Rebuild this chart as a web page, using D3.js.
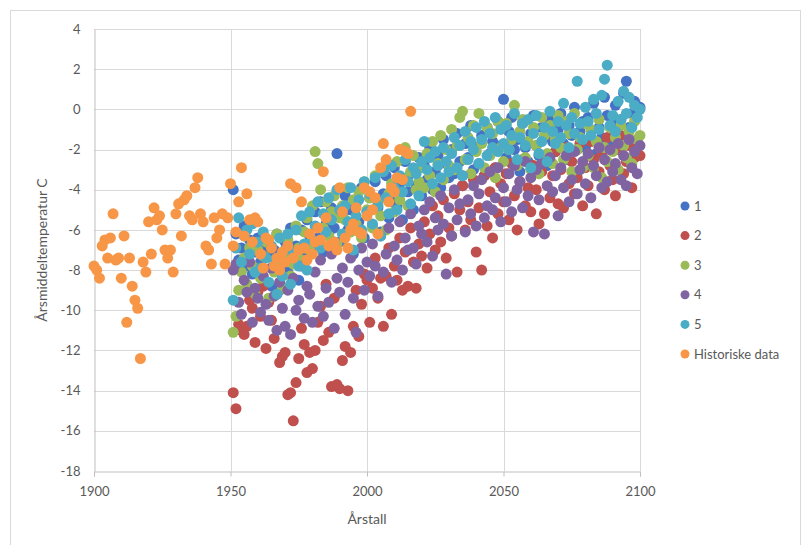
<!DOCTYPE html>
<html>
<head>
<meta charset="utf-8">
<script src="https://cdn.jsdelivr.net/npm/d3@7"></script>
<style>
  html, body { margin: 0; padding: 0; background: #fff; }
  svg { display: block; font-family: Lato, "Open Sans", sans-serif; }
</style>
</head>
<body>
<svg id="chart" width="802" height="545"></svg>
<script>
// Historical annual mean temperatures, 1900–2016
const histStart = 1900;
const histValues = [
  -7.8, -8.0, -8.4, -6.8, -6.5, -7.4, -6.4, -5.2, -7.5, -7.4,
  -8.4, -6.3, -10.6, -7.4, -8.8, -9.5, -9.9, -12.4, -7.6, -8.1,
  -5.6, -7.2, -4.9, -5.5, -5.3, -6.0, -7.0, -7.4, -7.0, -8.1,
  -5.2, -4.7, -6.3, -4.5, -4.3, -5.3, -5.5, -3.9, -3.4, -5.2,
  -5.6, -6.8, -7.0, -7.7, -5.4, -6.4, -6.0, -5.2, -7.7, -5.4,
  -3.7, -6.8, -6.1, -4.6, -2.9, -6.3, -4.2, -5.5, -6.6, -5.4,
  -5.6, -7.2, -7.9, -6.4, -6.5, -6.9, -7.8, -7.4, -8.0, -7.1,
  -7.6, -6.8, -3.7, -7.4, -3.9, -7.0, -4.6, -6.9, -7.5, -6.2,
  -7.2, -6.6, -5.9, -6.5, -3.1, -5.4, -6.8, -6.7, -6.6, -7.0,
  -3.9, -5.1, -6.4, -6.9, -6.0, -5.7, -4.9, -6.1, -6.2, -3.9,
  -5.3, -4.1, -5.0, -4.4, -6.2, -2.9, -1.7, -2.5, -4.6, -3.9,
  -4.1, -3.4, -2.0, -3.5, -2.1, -2.2, -0.1
];

// Scenario runs 1–5, 1951–2100
const scenStart = 1951;
const series1 = [
  -4.0, -6.2, -7.5, -6.9, -5.8, -7.8, -6.5, -8.2, -7.1, -6.4,
  -7.6, -8.4, -6.9, -7.3, -8.8, -7.0, -6.2, -9.0, -7.7, -6.6,
  -8.1, -5.9, -7.2, -6.8, -8.5, -6.0, -7.4, -5.5, -6.3, -7.0,
  -5.1, -6.4, -4.6, -7.1, -5.7, -6.2, -4.9, -5.9, -2.2, -6.6,
  -5.3, -4.3, -6.0, -5.0, -7.2, -4.7, -5.6, -3.9, -6.4, -5.1,
  -4.4, -5.8, -3.6, -4.9, -6.1, -4.2, -3.3, -5.4, -4.6, -2.9,
  -4.8, -3.7, -5.5, -2.6, -4.1, -3.2, -5.0, -3.8, -2.4, -4.3,
  -2.8, -3.5, -1.9, -4.0, -3.1, -2.3, -3.9, -1.5, -2.7, -3.4,
  -2.0, -3.2, -1.2, -2.6, -3.8, -1.7, -2.4, -0.8, -3.0, -1.9,
  -2.7, -1.3, -3.3, -0.9, -2.2, -1.6, -2.9, -0.6, -1.8, 0.5,
  -2.4, -1.1, -0.4, -2.0, -1.5, -3.1, -0.7, -1.9, -2.6, -1.2,
  -0.3, -1.8, -2.3, -0.9, -1.4, -2.8, -0.5, -1.6, -2.1, -1.0,
  -0.2, -1.7, -2.5, -0.8, -1.3, 0.1, -2.0, -1.1, -0.6, -1.9,
  -0.4, -1.5, 0.3, -2.2, -0.9, -1.4, 0.6, -0.3, -1.8, -0.7,
  0.2, -1.2, -0.5, 0.8, 1.4, -0.9, -0.2, 0.4, -1.6, 0.1
];
const series2 = [
  -14.1, -14.9, -10.7, -11.0, -11.2, -10.8, -9.5, -9.9, -11.6, -9.1,
  -10.3, -8.8, -11.9, -9.6, -10.5, -11.4, -9.2, -12.6, -12.3, -12.1,
  -14.2, -14.1, -15.5, -13.6, -12.4, -10.9, -11.7, -13.1, -12.1, -12.9,
  -12.0, -10.6, -9.8, -11.5, -8.7, -11.1, -13.8, -9.4, -13.7, -13.9,
  -12.5, -11.8, -14.0, -12.1, -10.8, -9.0, -11.3, -9.7, -8.2, -8.5,
  -10.6, -8.9, -7.4, -9.4, -8.4, -10.8, -8.3, -6.9, -10.2, -7.8,
  -8.5, -6.4, -9.0, -7.1, -8.8, -5.9, -7.6, -8.9, -6.7, -7.3,
  -5.6, -7.9, -6.2, -4.8, -7.0, -5.3, -6.6, -4.5, -7.4, -5.9,
  -6.3, -4.2, -8.1, -5.0, -3.8, -6.0, -4.6, -5.5, -3.5, -7.1,
  -4.9, -8.0, -3.3, -5.8, -4.1, -6.4, -2.9, -5.2, -3.7, -4.6,
  -3.2, -5.5, -2.7, -4.3, -6.0, -3.6, -2.5, -4.8, -3.9, -5.1,
  -2.8, -4.0, -5.7, -3.1, -5.2, -2.4, -4.4, -3.3, -2.1, -4.7,
  -3.0, -4.9, -1.9, -3.7, -2.6, -4.2, -3.4, -1.7, -4.8, -2.9,
  -3.8, -1.6, -2.5, -5.2, -3.1, -2.2, -4.0, -1.4, -2.8, -3.5,
  -4.3, -2.0, -1.3, -3.2, -2.6, -1.8, -3.9, -2.4, -1.5, -2.3
];
const series3 = [
  -11.1, -10.3, -9.0, -8.1, -7.4, -8.7, -6.9, -7.8, -9.2, -7.0,
  -8.4, -7.3, -6.6, -9.4, -7.9, -8.1, -6.2, -7.6, -8.9, -7.2,
  -6.5, -8.3, -7.7, -5.8, -6.9, -7.5, -6.1, -5.4, -7.0, -4.8,
  -2.1, -2.7, -4.0, -5.9, -4.6, -6.3, -5.1, -4.3, -6.7, -5.4,
  -4.8, -5.5, -3.9, -6.1, -4.5, -5.7, -4.1, -6.4, -3.6, -5.0,
  -4.4, -5.9, -3.3, -4.7, -5.3, -3.0, -6.0, -4.2, -3.7, -5.1,
  -2.6, -4.5, -3.4, -1.9, -4.8, -3.1, -2.3, -4.0, -3.6, -2.9,
  -3.9, -2.2, -3.3, -1.6, -4.1, -2.7, -1.3, -3.5, -2.0, -2.8,
  -1.0, -3.0, -1.8, -0.4, -0.1, -2.5, -1.4, -3.2, -0.8, -2.1,
  -0.2, -1.7, -2.9, -0.9, -2.3, -1.2, -3.4, -0.6, -1.9, -2.6,
  -0.7, -2.0, -1.5, 0.2, -2.8, -1.1, -0.5, -2.4, -1.6, -3.0,
  -0.9, -1.8, -3.2, -0.4, -1.3, -2.2, -0.8, -2.7, -1.5, -0.3,
  -1.9, -2.5, -0.6, -1.2, -3.1, -0.2, -2.0, -1.4, -2.9, -0.7,
  -2.3, -1.0, -2.9, -1.6, -0.5, -3.4, -1.9, -2.6, -0.9, -2.1,
  -1.4, -3.0, -0.8, -1.8, -2.4, -1.1, -2.7, -0.6, -1.5, -1.3
];
const series4 = [
  -8.0, -7.7, -9.6, -10.2, -8.5, -9.1, -7.6, -10.6, -8.9, -9.4,
  -10.1, -8.3, -9.7, -10.5, -7.9, -9.3, -11.0, -8.6, -9.9, -10.8,
  -9.0, -11.2, -8.4, -10.0, -9.5, -7.8, -10.4, -8.8, -9.2, -10.6,
  -8.1, -9.8, -7.5, -10.3, -8.9, -9.6, -7.2, -10.9, -8.4, -9.1,
  -7.9, -10.2, -8.6, -7.4, -9.4, -11.1, -8.0, -6.9, -9.0, -7.6,
  -8.3, -6.7, -7.8, -9.3, -6.3, -8.1, -7.2, -5.9, -8.6, -6.8,
  -7.5, -5.6, -8.0, -6.4, -7.0, -5.2, -6.9, -7.7, -5.8, -6.2,
  -5.0, -6.6, -4.6, -7.3, -5.4, -6.0, -4.3, -5.7, -8.2, -4.9,
  -6.3, -4.0, -5.5, -4.7, -3.3, -6.1, -4.5, -5.2, -3.8, -5.8,
  -4.2, -3.5, -5.4, -4.8, -3.1, -5.0, -4.4, -2.9, -5.6, -3.9,
  -4.6, -3.2, -5.1, -2.8, -4.0, -3.6, -4.9, -2.6, -4.3, -3.4,
  -6.1, -3.0, -4.5, -2.7, -6.2, -3.8, -2.4, -4.1, -3.3, -5.3,
  -2.9, -3.9, -2.3, -4.6, -3.5, -2.1, -4.2, -3.0, -2.6, -3.7,
  -2.2, -4.4, -2.8, -3.3, -1.9, -3.9, -2.5, -3.6, -2.0, -3.1,
  -2.7, -1.7, -3.5, -2.3, -3.8, -1.5, -2.9, -2.1, -3.2, -1.8
];
const series5 = [
  -9.5, -6.9, -5.4, -7.6, -6.3, -6.0, -7.2, -5.7, -8.1, -6.6,
  -7.9, -6.1, -7.4, -8.6, -6.8, -7.5, -9.2, -6.4, -8.3, -7.0,
  -6.2, -8.7, -7.1, -6.0, -7.8, -5.3, -6.7, -8.0, -5.1, -6.5,
  -5.8, -4.6, -6.9, -5.2, -6.1, -4.4, -5.5, -6.6, -4.0, -5.0,
  -6.2, -4.8, -5.6, -3.9, -7.0, -5.3, -4.5, -6.0, -3.6, -5.1,
  -4.2, -5.7, -3.4, -4.8, -6.3, -3.1, -4.4, -5.2, -2.8, -3.9,
  -5.0, -3.3, -4.1, -2.5, -3.6, -4.7, -2.9, -3.2, -4.3, -2.6,
  -1.6, -3.0, -2.4, -3.7, -2.1, -2.8, -3.4, -1.9, -2.6, -3.1,
  -2.2, -1.4, -2.9, -1.8, -3.3, -1.1, -2.5, -1.6, -2.0, -0.9,
  -2.7, -1.5, -0.6, -2.3, -1.2, -1.9, -0.4, -2.1, -1.0, -1.7,
  -0.8, -2.0, -1.3, -0.2, -2.5, -1.4, -0.7, -1.8, -0.5, -2.9,
  -1.2, -0.3, -2.2, -1.6, -0.9, -2.6, -0.1, -1.1, -1.7, -0.6,
  -1.4, 0.3, -0.8, -1.9, -0.4, -1.2, 1.4, -0.7, -1.5, 0.1,
  -0.6, -1.3, 0.5, -0.2, -1.0, 0.7, 1.5, 2.2, -0.8, -0.3,
  -1.1, 0.4, -0.5, 0.9, -0.2, 0.6, -0.9, 0.2, -0.4, 0.0
];

const seriesNames = ["1", "2", "3", "4", "5", "Historiske data"];
const seriesColors = ["#4472C4", "#C0504D", "#9BBB59", "#8064A2", "#4BACC6", "#F79646"];
const xTicks = [1900, 1950, 2000, 2050, 2100];
const yTicks = [4, 2, 0, -2, -4, -6, -8, -10, -12, -14, -16, -18];
const xTitle = "Årstall";
const yTitle = "Årsmiddeltemperatur C";

const seriesData = [
  { start: scenStart, values: series1 },
  { start: scenStart, values: series2 },
  { start: scenStart, values: series3 },
  { start: scenStart, values: series4 },
  { start: scenStart, values: series5 },
  { start: histStart, values: histValues }
].map((s, i) => ({
  name: seriesNames[i],
  color: seriesColors[i],
  points: s.values.map((v, j) => ({ year: s.start + j, value: v }))
}));

const svg = d3.select("#chart");
const textColor = "#595959";
const gridColor = "#d9d9d9";

// outer chart frame
svg.append("rect")
  .attr("x", 10.5).attr("y", 10.5)
  .attr("width", 790).attr("height", 560)
  .attr("fill", "#fff")
  .attr("stroke", "#d9d9d9");

const plot = { left: 94, right: 640, top: 29, bottom: 471 };
const x = d3.scaleLinear().domain([1900, 2100]).range([plot.left, plot.right]);
const y = d3.scaleLinear().domain([-18, 4]).range([plot.bottom, plot.top]);

// horizontal gridlines
svg.append("g")
  .selectAll("line")
  .data(yTicks.filter(t => t !== -18))
  .join("line")
  .attr("x1", plot.left).attr("x2", plot.right)
  .attr("y1", d => Math.round(y(d)) + 0.5)
  .attr("y2", d => Math.round(y(d)) + 0.5)
  .attr("stroke", gridColor);

// vertical gridlines
svg.append("g")
  .selectAll("line")
  .data(xTicks.filter(t => t !== 1900))
  .join("line")
  .attr("x1", d => Math.round(x(d)) + 0.5)
  .attr("x2", d => Math.round(x(d)) + 0.5)
  .attr("y1", plot.top).attr("y2", plot.bottom)
  .attr("stroke", gridColor);

// y axis
const yAxis = svg.append("g")
  .attr("transform", `translate(${plot.left + 0.5},0)`)
  .call(d3.axisLeft(y).tickValues(yTicks).tickSize(0).tickPadding(14).tickFormat(d3.format("d")));
yAxis.select(".domain").attr("stroke", "#bfbfbf");
yAxis.selectAll("text")
  .attr("fill", textColor)
  .style("font-size", "13px")
  .style("font-family", "Lato, 'Open Sans', sans-serif")
  .text(d => String(d));

// x axis
const xAxis = svg.append("g")
  .attr("transform", `translate(0,${Math.round(plot.bottom) + 0.5})`)
  .call(d3.axisBottom(x).tickValues(xTicks).tickSize(5).tickPadding(10).tickFormat(d3.format("d")));
xAxis.select(".domain").attr("stroke", "#bfbfbf");
xAxis.selectAll(".tick line").attr("stroke", "#bfbfbf");
xAxis.selectAll("text")
  .attr("fill", textColor)
  .style("font-size", "13px")
  .style("font-family", "Lato, 'Open Sans', sans-serif");

// axis titles
svg.append("text")
  .attr("x", (plot.left + plot.right) / 2)
  .attr("y", 524)
  .attr("text-anchor", "middle")
  .attr("fill", textColor)
  .style("font-size", "14px")
  .text(xTitle);

svg.append("text")
  .attr("transform", `translate(47,${(plot.top + plot.bottom) / 2}) rotate(-90)`)
  .attr("text-anchor", "middle")
  .attr("fill", textColor)
  .style("font-size", "14px")
  .text(yTitle);

// scatter points
const marks = svg.append("g");
seriesData.forEach(s => {
  marks.append("g")
    .selectAll("circle")
    .data(s.points)
    .join("circle")
    .attr("cx", d => x(d.year))
    .attr("cy", d => y(d.value))
    .attr("r", 5.5)
    .attr("fill", s.color);
});

// legend
const legend = svg.append("g").attr("transform", "translate(685,206)");
const items = legend.selectAll("g")
  .data(seriesData)
  .join("g")
  .attr("transform", (d, i) => `translate(0,${i * 29.6})`);
items.append("circle").attr("r", 4.5).attr("fill", d => d.color);
items.append("text")
  .attr("x", 9).attr("dy", "0.35em")
  .attr("fill", textColor)
  .style("font-size", "13px")
  .text(d => d.name);
</script>
</body>
</html>
